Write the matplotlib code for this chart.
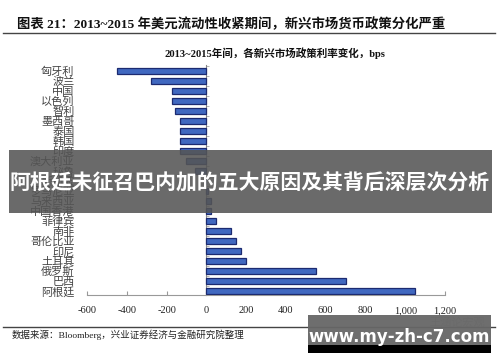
import numpy as np
import matplotlib.pyplot as plt
from matplotlib.patches import Rectangle

plt.rcParams['font.family'] = ['Liberation Serif', 'Noto Sans CJK SC', 'DejaVu Sans']

names = ['匈牙利', '波兰', '中国', '以色列', '智利', '墨西哥', '泰国', '韩国', '印度',
         '澳大利亚', '秘鲁', '新加坡', '罗马尼亚', '马来西亚', '中国香港', '菲律宾',
         '南非', '哥伦比亚', '印尼', '土耳其', '俄罗斯', '巴西', '阿根廷']
values = [-450, -280, -175, -175, -160, -130, -130, -130, -130, -100, -55, -10, 10,
          25, 25, 50, 125, 150, 175, 200, 550, 700, 1050]
xticks = [-600, -400, -200, 0, 200, 400, 600, 800, 1000, 1200]

W, H = 500, 362
fig = plt.figure(figsize=(W / 100, H / 100), dpi=100)
ax = fig.add_axes([87 / W, 1 - 295 / H, (445 - 87) / W, (295 - 65) / H])

y = np.arange(len(names))
ax.barh(y, values, height=0.6, color='#4068c0', edgecolor='#1c2a70', linewidth=0.9, zorder=3)

ax.set_xlim(-600, 1200)
ax.set_ylim(len(names) - 0.6, -0.6)
ax.set_xticks(xticks)
ax.set_xticklabels([f'{v:,}' for v in xticks], fontsize=7.5, color='#222')
ax.set_yticks(y)
ax.set_yticklabels(names, fontsize=8, color='#444', family=['Noto Sans CJK SC'])
ax.tick_params(axis='y', length=0, pad=9)
ax.tick_params(axis='x', direction='in', length=3, color='#999', pad=8)

for s in ['top', 'right', 'left']:
    ax.spines[s].set_visible(False)
ax.spines['bottom'].set_color('#999')

# vertical axis through zero with small ticks between bars
sec = ax.secondary_yaxis(600 / 1800)
sec.set_yticks(np.arange(len(names) + 1) - 0.5)
sec.set_yticklabels([])
sec.tick_params(direction='in', length=2.5, color='#aaa', width=0.6)
sec.spines['left'].set_color('#888')

# header
fig.text(17 / W, 1 - 24 / H, '图表 21：2013~2015 年美元流动性收紧期间，新兴市场货币政策分化严重',
         fontsize=9.6, fontweight='bold', color='#111', va='center', ha='left')
fig.add_artist(plt.Line2D([3 / W, 495 / W], [1 - 33 / H, 1 - 33 / H], color='#444', lw=1))
fig.text(275 / W, 1 - 53 / H, '2013~2015年间，各新兴市场政策利率变化，bps',
         fontsize=7.6, fontweight='bold', color='#111', va='center', ha='center')

# footer
fig.add_artist(plt.Line2D([3 / W, 495 / W], [1 - 327 / H, 1 - 327 / H], color='#444', lw=1))
fig.text(12 / W, 1 - 335 / H, '数据来源：Bloomberg，兴业证券经济与金融研究院整理',
         fontsize=6.8, color='#222', va='center', ha='left')
fig.text(485 / W, 1 - 322 / H, '王涵论宏观', fontsize=8, color='#bbb', va='center', ha='right')

# overlay banner
fig.add_artist(Rectangle((9 / W, 1 - 213 / H), (492 - 9) / W, (213 - 150) / H,
                         transform=fig.transFigure, facecolor='#555555', alpha=0.88,
                         edgecolor='none', zorder=10))
fig.text(250 / W, 1 - 183 / H, '阿根廷未征召巴内加的五大原因及其背后深层次分析',
         fontsize=15, fontweight='bold', color='white', va='center', ha='center',
         family=['Noto Sans CJK SC'], zorder=11)

# watermark box
fig.add_artist(Rectangle((308 / W, 1 - 345 / H), (491 - 308) / W, (345 - 315) / H,
                         transform=fig.transFigure, facecolor='#666666', alpha=0.95,
                         edgecolor='none', zorder=10))
fig.add_artist(Rectangle((308 / W, 1 - 353 / H), (491 - 308) / W, 8 / H,
                         transform=fig.transFigure, facecolor='black',
                         edgecolor='none', zorder=10))
fig.text(399 / W, 1 - 337 / H, 'www.my-zh-c7.com', fontsize=12, fontweight='bold',
         color='white', va='center', ha='center', family=['DejaVu Sans'], zorder=11)

plt.savefig('out.png', dpi=100)
